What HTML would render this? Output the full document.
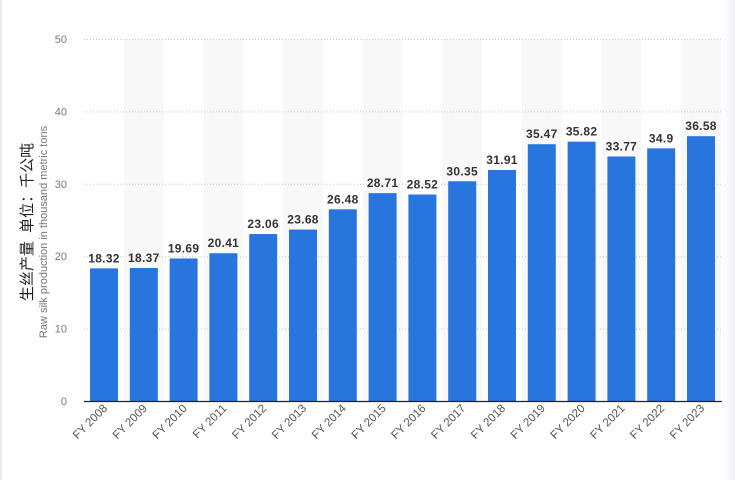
<!DOCTYPE html>
<html><head><meta charset="utf-8"><style>
body{margin:0;background:#fff;}
svg text{font-family:"Liberation Sans","Noto Sans CJK SC",sans-serif;}
</style></head><body>
<svg width="735" height="480" xmlns="http://www.w3.org/2000/svg">
<defs><linearGradient id="sh" x1="0" x2="1"><stop offset="0" stop-color="#fff"/><stop offset="1" stop-color="#f1f2f5"/></linearGradient></defs>
<rect x="0" y="0" width="2" height="480" fill="#e8eaee"/>
<rect x="722" y="0" width="13" height="480" fill="url(#sh)"/>
<g id="bands" fill="#f8f8f8"></g>
<g id="grid" stroke="#c8c8c8" stroke-dasharray="1,2" stroke-width="1"></g>
<g id="bars"></g>
<line x1="84" y1="401.5" x2="722" y2="401.5" stroke="#222" stroke-width="1.2"/>
<g font-size="11" fill="#777" text-anchor="end" id="yl"></g>
<text transform="translate(32,222) rotate(-90)" text-anchor="middle" font-size="15" fill="#222" xml:space="preserve">生丝产量  单位：千公吨</text>
<text transform="translate(47,232) rotate(-90)" text-anchor="middle" font-size="11" fill="#777">Raw silk production in thousand metric tons</text>
</svg>
<script>
const v=[18.32,18.37,19.69,20.41,23.06,23.68,26.48,28.71,28.52,30.35,31.91,35.47,35.82,33.77,34.9,36.58];
const ns="http://www.w3.org/2000/svg";
function el(p,t,a,txt){const e=document.createElementNS(ns,t);for(const k in a)e.setAttribute(k,a[k]);if(txt!==undefined)e.textContent=txt;document.getElementById(p).appendChild(e);}
const y0=401,s=7.24,p=39.8;
for(let i=0;i<16;i++){
 const x=90+i*p,cx=x+14;
 if(i%2==1)el('bands','rect',{x:cx-p/2,y:39,width:p,height:362});
 const h=v[i]*s;
 el('bars','rect',{x:x,y:y0-h,width:28,height:h,fill:'#2876dd'});
 el('bars','text',{x:cx,y:y0-h-6,'text-anchor':'middle','font-size':'12','font-weight':'bold',fill:'#333','letter-spacing':'0.3'},String(v[i]));
 el('bars','text',{transform:`translate(${cx+4},409) rotate(-45)`,'text-anchor':'end','font-size':'11.5',fill:'#555'},'FY '+(2008+i));
}
for(let k=1;k<=5;k++){const y=y0-k*10*s;el('grid','line',{x1:84,x2:722,y1:y+0.5,y2:y+0.5});}
for(let k=0;k<=5;k++){el('yl','text',{x:67,y:y0-k*10*s+4},String(k*10));}
</script>
</body></html>
